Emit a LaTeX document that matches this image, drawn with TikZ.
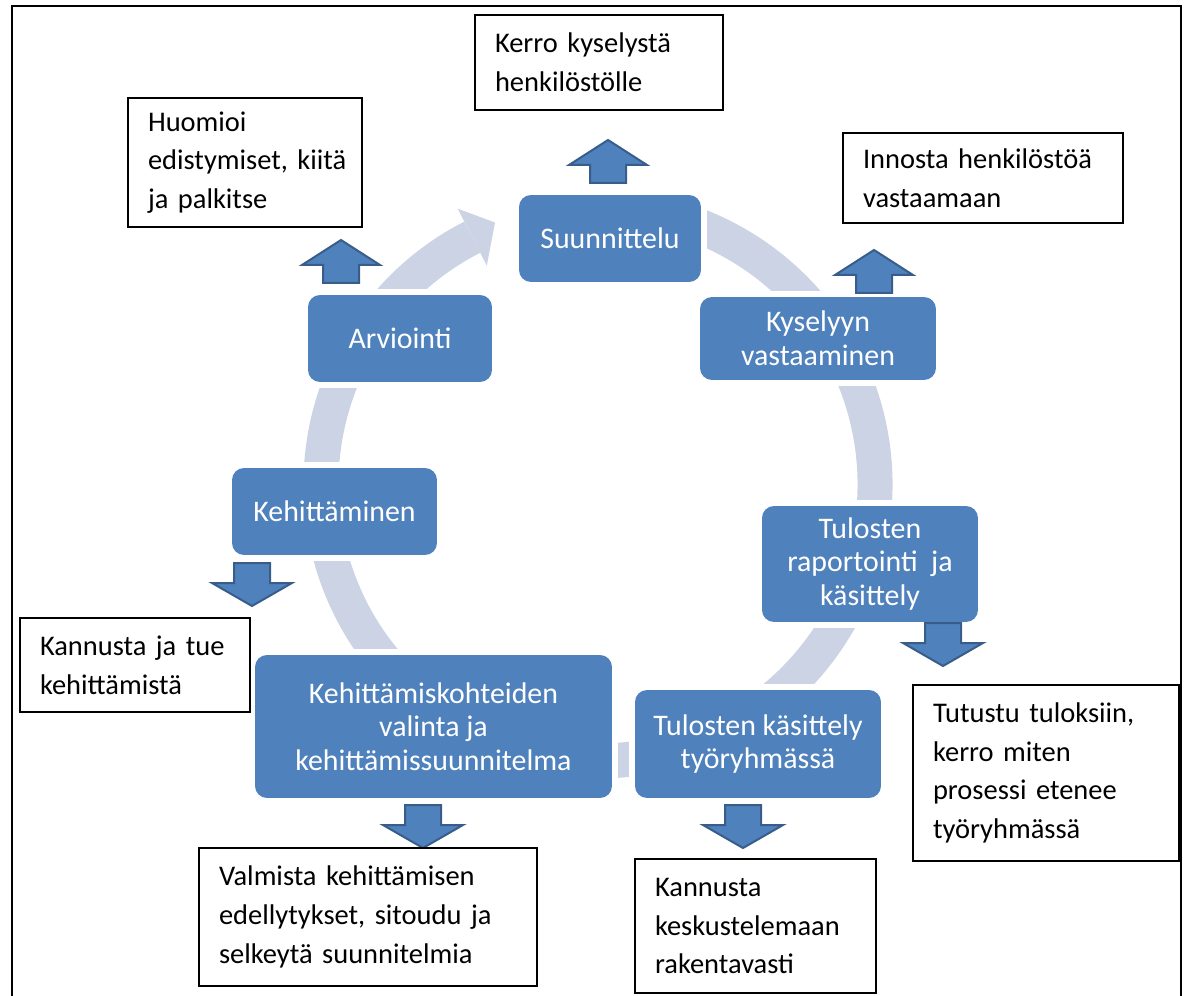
\documentclass[tikz,border=0pt]{standalone}
\usepackage{fontspec}
\setmainfont{Carlito}
\usetikzlibrary{calc}
\definecolor{stageblue}{RGB}{79,129,189}
\definecolor{stageedge}{RGB}{56,93,138}
\definecolor{ringgray}{RGB}{203,211,228}

\tikzset{
    pics/uparrow/.style={code={
        \filldraw[fill=stageblue, draw=stageedge, line width=0.04cm]
            (-18,0) -- (-18,-18) -- (-39,-18) -- (0,-43) -- (39,-18) -- (18,-18) -- (18,0) -- cycle;
    }},
    pics/downarrow/.style={code={
        \filldraw[fill=stageblue, draw=stageedge, line width=0.04cm]
            (-18,0) -- (-18,20) -- (-40,20) -- (0,43) -- (40,20) -- (18,20) -- (18,0) -- cycle;
    }}
}

\begin{document}
\begin{tikzpicture}[x=0.02cm, y=-0.02cm,
    stage/.style={rectangle, rounded corners=0.24cm, fill=stageblue, preaction={draw=white, line width=0.24cm},
                  text=white, align=center, inner sep=0pt, font=\fontsize{17}{19.2}\selectfont},
    note/.style={rectangle, draw=black, fill=white, line width=0.03cm, align=left,
                 inner xsep=0.4cm, inner ysep=0pt, font=\fontsize{16.2}{22}\selectfont}]
    \useasboundingbox (0,0) rectangle (1192,996);
    \draw[line width=0.03cm] (12,996) -- (12,6) -- (1181,6) -- (1181,996);

    % ring behind the stages
    \coordinate (ringc) at (598,484);
    \draw[ringgray, line width=0.7cm] ($(ringc)+(-100:277)$) arc[start angle=-100, end angle=243, radius=277];
    \fill[ringgray] ($(ringc)+(243:245)$) -- ($(ringc)+(248.5:281)$) -- ($(ringc)+(243:309)$) -- cycle;

    % stages
    \node[stage, minimum width=3.64cm, minimum height=1.74cm] (plan) at (610, 238.5) {Suunnittelu};
    \node[stage, minimum width=4.72cm, minimum height=1.66cm] (answer) at (818, 338.5) {Kyselyyn\\vastaaminen};
    \node[stage, minimum width=4.32cm, minimum height=2.32cm] (report) at (870, 564) {Tulosten\\raportointi\ \ ja\\käsittely};
    \node[stage, minimum width=4.92cm, minimum height=2.16cm] (group) at (758, 744) {Tulosten käsittely\\työryhmässä};
    \node[stage, minimum width=7.14cm, minimum height=2.86cm] (choose) at (433.5, 726.5) {Kehittämiskohteiden\\valinta ja\\kehittämissuunnitelma};
    \node[stage, minimum width=4.10cm, minimum height=1.74cm] (develop) at (334.5, 511.5) {Kehittäminen};
    \node[stage, minimum width=3.68cm, minimum height=1.74cm] (assess) at (400, 338.5) {Arviointi};

    % block arrows
    \pic (a1) at (608, 183) {uparrow};
    \pic (a2) at (341, 283) {uparrow};
    \pic (a3) at (874, 293) {uparrow};
    \pic (a4) at (252, 563) {downarrow};
    \pic (a5) at (943, 623) {downarrow};
    \pic (a6) at (423, 805) {downarrow};
    \pic (a7) at (743, 805) {downarrow};

    % notes
    \node[note, text width=4.16cm, minimum height=1.90cm] (tell) at (599, 62.5) {Kerro kyselystä\\henkilöstölle};
    \node[note, text width=3.88cm, minimum height=2.58cm] (reward) at (245, 162.5) {Huomioi\\\mbox{edistymiset, kiitä}\\ja palkitse};
    \node[note, text width=4.80cm, minimum height=1.80cm] (inspire) at (983, 178) {Innosta henkilöstöä\\vastaamaan};
    \node[note, text width=3.80cm, minimum height=1.88cm] (support) at (135, 665) {Kannusta ja tue\\kehittämistä};
    \node[note, text width=5.96cm, minimum height=2.76cm] (prepare) at (368, 917) {Valmista kehittämisen\\edellytykset, sitoudu ja\\selkeytä suunnitelmia};
    \node[note, text width=4.02cm, minimum height=2.68cm] (discuss) at (755.5, 926) {Kannusta\\keskustelemaan\\rakentavasti};
    \node[note, text width=4.52cm, minimum height=3.52cm] (study) at (1046, 773) {Tutustu tuloksiin,\\kerro miten\\prosessi etenee\\työryhmässä};
\end{tikzpicture}
\end{document}
